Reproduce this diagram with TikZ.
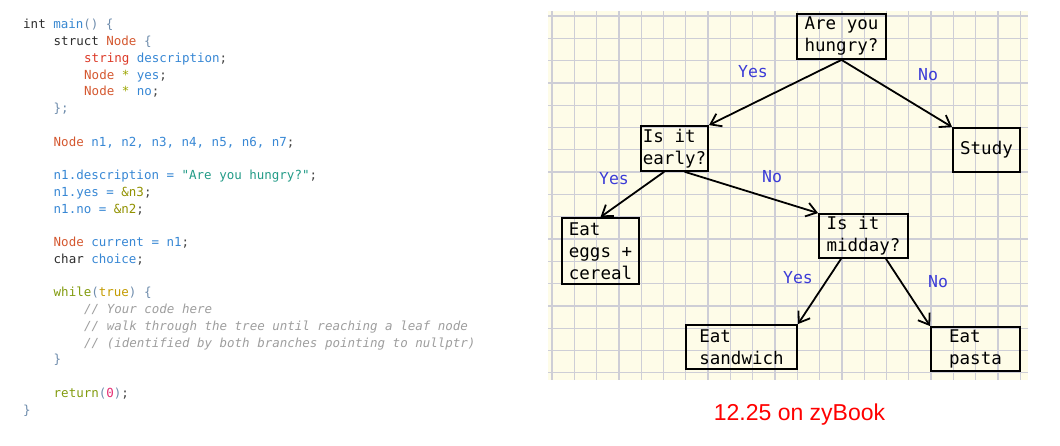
\documentclass[tikz,border=0pt]{standalone}
\usepackage{fontspec}
\usetikzlibrary{arrows.meta}

\newfontfamily\codefont{DejaVu Sans Mono}
\newfontfamily\capfont{Liberation Sans}

\definecolor{paper}{RGB}{254,252,232}
\definecolor{gridc}{RGB}{206,206,214}
\definecolor{labc}{RGB}{60,60,215}
\definecolor{kwc}{RGB}{45,45,45}
\definecolor{fnc}{RGB}{55,135,208}
\definecolor{tyc}{RGB}{212,88,48}
\definecolor{stc}{RGB}{220,58,40}
\definecolor{idc}{RGB}{55,135,212}
\definecolor{puc}{RGB}{110,140,172}
\definecolor{opc}{RGB}{155,165,0}
\definecolor{litc}{RGB}{35,155,135}
\definecolor{ampc}{RGB}{145,145,0}
\definecolor{ctc}{RGB}{130,155,15}
\definecolor{boc}{RGB}{195,155,0}
\definecolor{nmc}{RGB}{228,45,115}
\definecolor{cmc}{RGB}{158,158,158}
\definecolor{sec}{RGB}{70,70,70}

\newcommand\cKw[1]{\textcolor{kwc}{#1}}
\newcommand\cFn[1]{\textcolor{fnc}{#1}}
\newcommand\cTy[1]{\textcolor{tyc}{#1}}
\newcommand\cSt[1]{\textcolor{stc}{#1}}
\newcommand\cId[1]{\textcolor{idc}{#1}}
\newcommand\cPu[1]{\textcolor{puc}{#1}}
\newcommand\cOp[1]{\textcolor{opc}{#1}}
\newcommand\cLit[1]{\textcolor{litc}{#1}}
\newcommand\cAmp[1]{\textcolor{ampc}{#1}}
\newcommand\cCt[1]{\textcolor{ctc}{#1}}
\newcommand\cBo[1]{\textcolor{boc}{#1}}
\newcommand\cNm[1]{\textcolor{nmc}{#1}}
\newcommand\cCm[1]{\textcolor{cmc}{\itshape #1}}
\newcommand\cSe[1]{\textcolor{sec}{#1}}

\tikzset{
  code/.style={anchor=base west, inner sep=0pt, font=\fontsize{12.5}{15}\codefont},
  gridline/.style={draw=gridc, line width=1.3pt},
  box/.style={draw, line width=1.8pt, align=left, inner sep=2pt,
    font=\fontsize{17.5}{22}\codefont},
  lab/.style={text=labc, font=\fontsize{16.5}{20}\codefont},
  arr/.style={line width=1.8pt, line cap=round, -{Straight Barb[length=10pt,width=14pt]}}
}

\begin{document}
\begin{tikzpicture}[x=1pt, y=-1pt]
\useasboundingbox (0,0) rectangle (1060,446);

% code listing
\node[code] (l0) at (23, 28.8) {\cKw{int} \cFn{main}\cPu{() \{}};
\node[code] (l1) at (53.5, 28.8+16.75*1) {\cKw{struct} \cTy{Node} \cPu{\{}};
\node[code] (l2) at (84, 28.8+16.75*2) {\cSt{string} \cId{description}\cSe{;}};
\node[code] (l3) at (84, 28.8+16.75*3) {\cTy{Node} \cOp{*} \cId{yes}\cSe{;}};
\node[code] (l4) at (84, 28.8+16.75*4) {\cTy{Node} \cOp{*} \cId{no}\cSe{;}};
\node[code] (l5) at (53.5, 28.8+16.75*5) {\cPu{\};}};
\node[code] (l7) at (53.5, 28.8+16.75*7) {\cTy{Node} \cId{n1, n2, n3, n4, n5, n6, n7}\cSe{;}};
\node[code] (l9) at (53.5, 28.8+16.75*9) {\cId{n1.description =} \cLit{"Are you hungry?"}\cSe{;}};
\node[code] (l10) at (53.5, 28.8+16.75*10) {\cId{n1.yes =} \cAmp{\&n3}\cSe{;}};
\node[code] (l11) at (53.5, 28.8+16.75*11) {\cId{n1.no =} \cAmp{\&n2}\cSe{;}};
\node[code] (l13) at (53.5, 28.8+16.75*13) {\cTy{Node} \cId{current = n1}\cSe{;}};
\node[code] (l14) at (53.5, 28.8+16.75*14) {\cKw{char} \cId{choice}\cSe{;}};
\node[code] (l16) at (53.5, 28.8+16.75*16) {\cCt{while}\cPu{(}\cBo{true}\cPu{) \{}};
\node[code] (l17) at (84, 28.8+16.75*17) {\cCm{// Your code here}};
\node[code] (l18) at (84, 28.8+16.75*18) {\cCm{// walk through the tree until reaching a leaf node}};
\node[code] (l19) at (84, 28.8+16.75*19) {\cCm{// (identified by both branches pointing to nullptr)}};
\node[code] (l20) at (53.5, 28.8+16.75*20) {\cPu{\}}};
\node[code] (l22) at (53.5, 28.8+16.75*22) {\cCt{return}\cPu{(}\cNm{0}\cPu{)}\cSe{;}};
\node[code] (l23) at (23, 28.8+16.75*23) {\cPu{\}}};

% graph paper
\fill[paper] (548,11) rectangle (1028,380);
\foreach \i in {0,...,21}
  \draw[gridline] (552+22.3*\i,11) -- (552+22.3*\i,380);
\foreach \j in {0,...,16}
  \draw[gridline] (548,16+22.3*\j) -- (1028,16+22.3*\j);

% decision tree
\node[box, minimum width=89, minimum height=45] (hungry) at (841.5,36.5) {Are you\\hungry?};
\node[box, minimum width=67, minimum height=45] (early) at (674.5,148.5) {Is it\\early?};
\node[box, minimum width=67, minimum height=44] (study) at (986.5,150) {Study};
\node[box, minimum width=77, minimum height=66] (eggs) at (600.5,251) {Eat\\eggs +\\cereal};
\node[box, minimum width=89, minimum height=44] (midday) at (863.5,236) {Is it\\midday?};
\node[box, minimum width=111, minimum height=44] (sandwich) at (741.5,347) {Eat\\sandwich};
\node[box, minimum width=89, minimum height=44] (pasta) at (975.5,349) {Eat\\pasta};

\draw[arr] (hungry.south) -- (early.north east);
\draw[arr] (hungry.south) -- (study.north west);
\draw[arr] ([xshift=-10.5pt]early.south) -- (eggs.north);
\draw[arr] ([xshift=10.5pt]early.south) -- (midday.north west);
\draw[arr] ([xshift=-22.5pt]midday.south) -- (sandwich.north east);
\draw[arr] ([xshift=22.5pt]midday.south) -- (pasta.north west);

\node[lab] (yes1) at (753,72) {Yes};
\node[lab] (no1) at (928,75) {No};
\node[lab] (yes2) at (614,179) {Yes};
\node[lab] (no2) at (772,177) {No};
\node[lab] (yes3) at (798,278) {Yes};
\node[lab] (no3) at (938,282) {No};

\node[text=red, font=\fontsize{23}{28}\capfont] (zybook) at (799.5,415) {12.25 on zyBook};
\end{tikzpicture}
\end{document}
